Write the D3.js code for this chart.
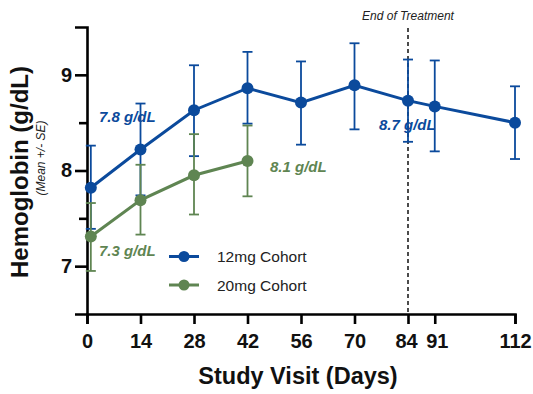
<!DOCTYPE html>
<html><head><meta charset="utf-8">
<script src="https://cdn.jsdelivr.net/npm/d3@7"></script>
<style>body{margin:0;background:#fff}svg{display:block}text{font-family:"Liberation Sans",Arial,sans-serif}</style>
</head><body>
<svg id="c" width="533" height="394"></svg>
<script>
const days12 = [1, 14, 28, 42, 56, 70, 84, 91, 112];
const mean12 = [7.82, 8.22, 8.63, 8.86, 8.71, 8.89, 8.73, 8.67, 8.50];
const upper12 = [8.26, 8.70, 9.10, 9.24, 9.14, 9.33, 9.16, 9.15, 8.88];
const lower12 = [7.39, 7.74, 8.15, 8.49, 8.27, 8.43, 8.30, 8.20, 8.12];
const days20 = [1, 14, 28, 42];
const mean20 = [7.31, 7.69, 7.95, 8.10];
const upper20 = [7.66, 8.06, 8.38, 8.47];
const lower20 = [6.95, 7.33, 7.54, 7.73];
const xTicks = [0, 14, 28, 42, 56, 70, 84, 91, 112];
const yTicks = [7, 8, 9];
const yMinor = [7.5, 8.5];
const seriesNames = ["12mg Cohort", "20mg Cohort"];
const annotations = [
  {text: "7.8 g/dL", s: 0, x: 99, y: 122},
  {text: "8.7 g/dL", s: 0, x: 379, y: 130},
  {text: "8.1 g/dL", s: 1, x: 270, y: 172},
  {text: "7.3 g/dL", s: 1, x: 99, y: 256}
];
const colors = ["#0b4a9c", "#5f8552"];

const svg = d3.select("#c");
const x = d3.scaleLinear().domain([0, 112]).range([87, 515]);
const y = d3.scaleLinear().domain([6.5, 9.5]).range([314, 27]);

// dashed end of treatment
svg.append("line").attr("x1", x(84)).attr("x2", x(84)).attr("y1", 28).attr("y2", y(6.5))
  .attr("stroke", "#111").attr("stroke-width", 1.5).attr("stroke-dasharray", "4,3");
svg.append("text").attr("x", x(84)).attr("y", 20).attr("text-anchor", "middle")
  .attr("font-size", 12).attr("font-style", "italic").attr("fill", "#222").text("End of Treatment");

// axes
const xAxis = svg.append("g").attr("transform", `translate(0,${y(6.5)})`)
  .call(d3.axisBottom(x).tickValues(xTicks).tickSize(10).tickPadding(10).tickFormat(d3.format("d")));
const yAxis = svg.append("g").attr("transform", `translate(${x(0)},0)`)
  .call(d3.axisLeft(y).tickValues(yTicks).tickSize(12).tickPadding(3).tickFormat(d3.format("d")));
svg.append("g").attr("transform", `translate(${x(0)},0)`)
  .call(d3.axisLeft(y).tickValues(yMinor).tickSize(8).tickFormat(""))
  .call(g => g.select(".domain").remove());
svg.selectAll(".domain").attr("stroke", "#000").attr("stroke-width", 2.6);
svg.selectAll(".tick line").attr("stroke", "#000").attr("stroke-width", 2.6);
svg.selectAll(".tick text").attr("font-size", 20).attr("font-weight", "bold").attr("fill", "#111")
  .attr("font-family", "Liberation Sans, Arial, sans-serif");
xAxis.selectAll(".tick text").attr("dy", "0.71em");
xAxis.selectAll(".tick").filter(d => d === 84).select("text").attr("dx", -2);
xAxis.selectAll(".tick").filter(d => d === 91).select("text").attr("dx", 2);

// titles
svg.append("text").attr("transform", "translate(28,172) rotate(-90)").attr("text-anchor", "middle")
  .attr("font-size", 24).attr("font-weight", "bold").attr("fill", "#111").text("Hemoglobin (g/dL)");
svg.append("text").attr("transform", "translate(45,158) rotate(-90)").attr("text-anchor", "middle")
  .attr("font-size", 12).attr("font-style", "italic").attr("fill", "#222").text("(Mean +/- SE)");
svg.append("text").attr("x", 298).attr("y", 384).attr("text-anchor", "middle")
  .attr("font-size", 23.5).attr("font-weight", "bold").attr("fill", "#111").text("Study Visit (Days)");

// series
const series = [
  {days: days12, mean: mean12, up: upper12, lo: lower12},
  {days: days20, mean: mean20, up: upper20, lo: lower20}
];
const line = d3.line().x(d => x(d.d)).y(d => y(d.m));
series.forEach((s, i) => {
  const pts = s.days.map((d, j) => ({d, m: s.mean[j], u: s.up[j], l: s.lo[j]}));
  const g = svg.append("g");
  const eb = g.selectAll(".eb").data(pts).enter().append("g").attr("stroke", colors[i]).attr("stroke-width", 1.8);
  eb.append("line").attr("x1", d => x(d.d)).attr("x2", d => x(d.d)).attr("y1", d => y(d.u)).attr("y2", d => y(d.l));
  eb.append("line").attr("x1", d => x(d.d) - 5).attr("x2", d => x(d.d) + 5).attr("y1", d => y(d.u)).attr("y2", d => y(d.u));
  eb.append("line").attr("x1", d => x(d.d) - 5).attr("x2", d => x(d.d) + 5).attr("y1", d => y(d.l)).attr("y2", d => y(d.l));
  g.append("path").datum(pts).attr("d", line).attr("fill", "none").attr("stroke", colors[i]).attr("stroke-width", 3);
  g.selectAll("circle").data(pts).enter().append("circle").attr("cx", d => x(d.d)).attr("cy", d => y(d.m))
    .attr("r", 6).attr("fill", colors[i]);
});

// annotations
annotations.forEach(a => {
  svg.append("text").attr("x", a.x).attr("y", a.y).attr("font-size", 15).attr("font-weight", "bold")
    .attr("font-style", "italic").attr("fill", colors[a.s]).text(a.text);
});

// legend
seriesNames.forEach((n, i) => {
  const ly = 256.5 + i * 28.5;
  svg.append("line").attr("x1", 169).attr("x2", 199).attr("y1", ly).attr("y2", ly)
    .attr("stroke", colors[i]).attr("stroke-width", 3);
  svg.append("circle").attr("cx", 184).attr("cy", ly).attr("r", 5.5).attr("fill", colors[i]);
  svg.append("text").attr("x", 217).attr("y", ly + 5.5).attr("font-size", 15.5).attr("fill", "#222").text(n);
});
</script>
</body></html>
